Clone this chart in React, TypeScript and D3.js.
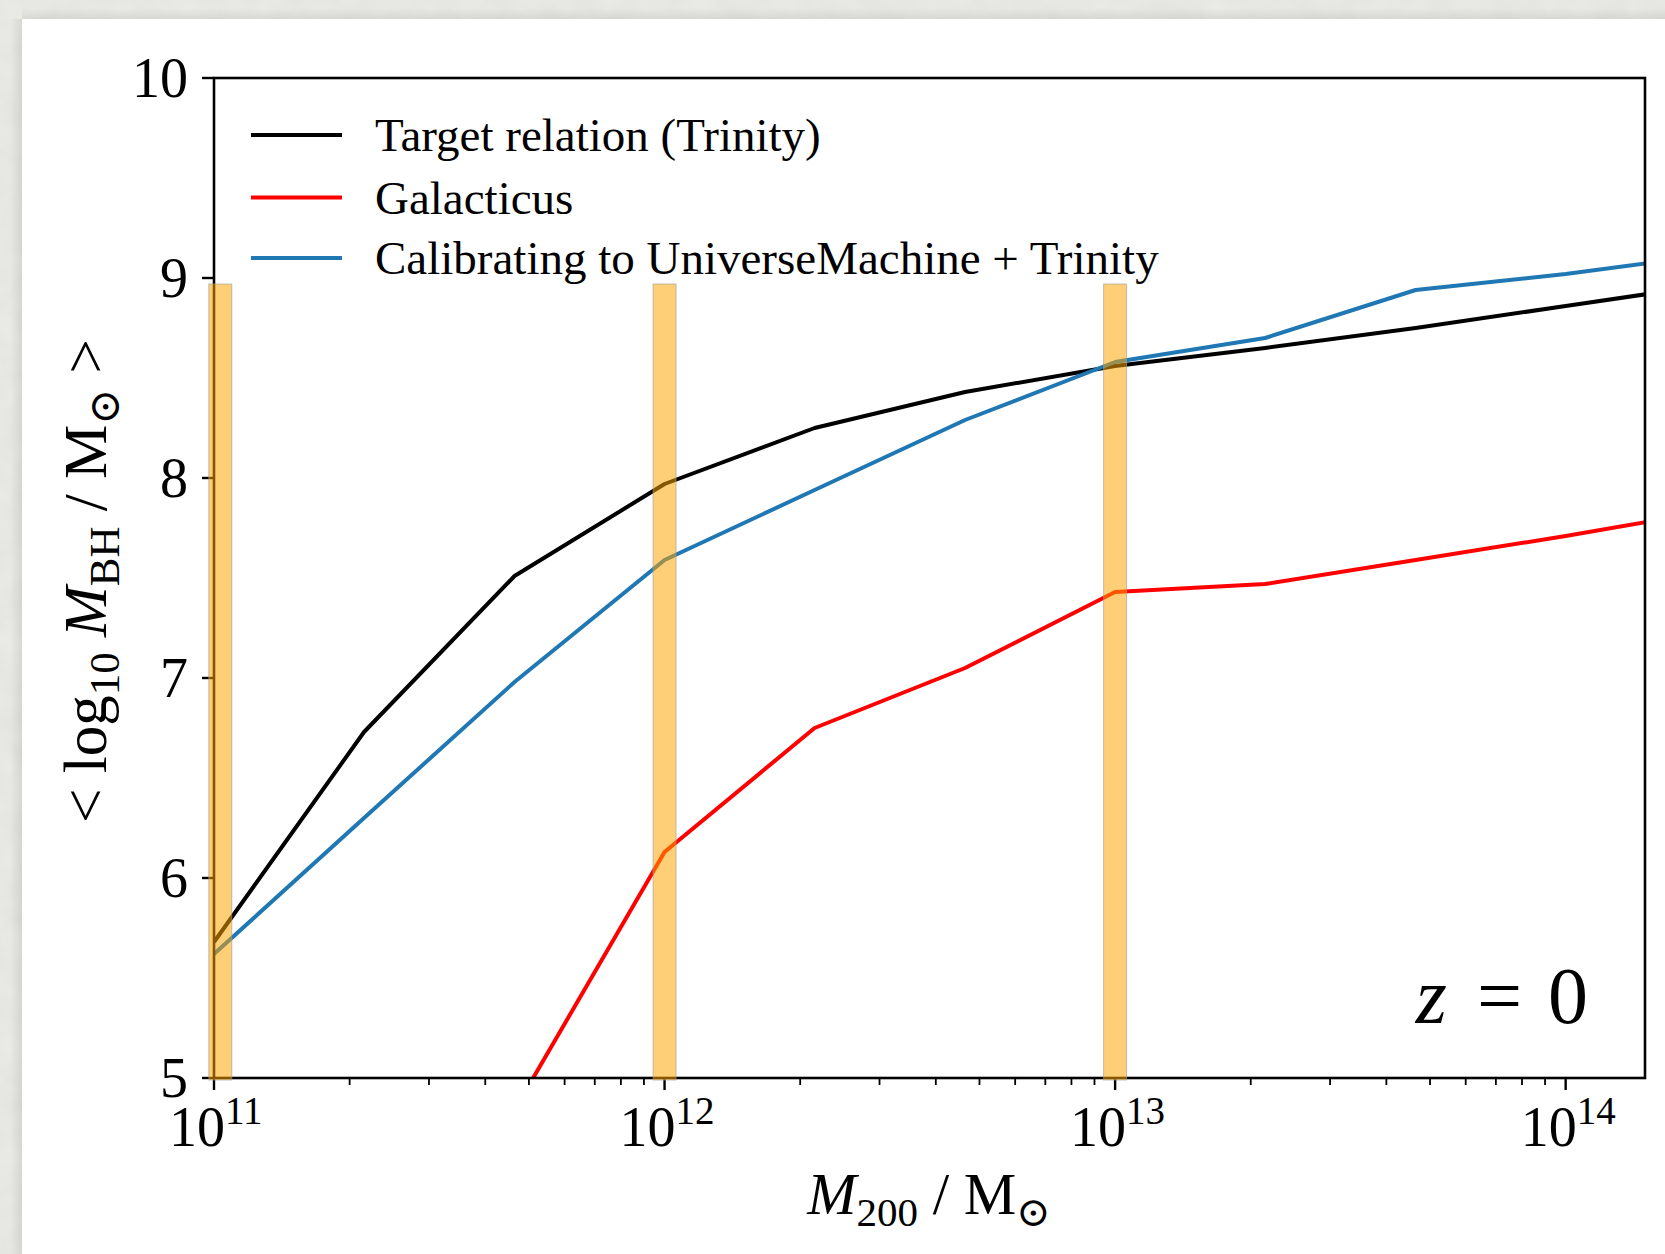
import React from "react";
import * as d3 from "d3";

const W = 1665;
const H = 1254;

// log10(M200 / Msun) sample points
const logMass = [11.0, 11.333, 11.667, 12.0, 12.333, 12.667, 13.0, 13.333, 13.667, 14.0, 14.333];
const targetTrinity = [5.68, 6.73, 7.51, 7.97, 8.25, 8.43, 8.56, 8.65, 8.75, 8.86, 8.97];
const calibrated = [5.62, 6.3, 6.98, 7.59, 7.94, 8.29, 8.58, 8.7, 8.94, 9.02, 9.12];
const galacticusMass = [11.667, 12.0, 12.333, 12.667, 13.0, 13.333, 13.667, 14.0, 14.333];
const galacticus = [4.84, 6.13, 6.75, 7.05, 7.43, 7.47, 7.59, 7.71, 7.84];

// highlighted mass bins (log10 centre)
const bandCenters = [11.014, 12.0, 13.0];
const bandHalfWidth = 0.0255;
const bandRange = [5, 8.97];

const xTicks = [11, 12, 13, 14];
const yTicks = [5, 6, 7, 8, 9, 10];

const seriesNames = ["Target relation (Trinity)", "Galacticus", "Calibrating to UniverseMachine + Trinity"];
const seriesColors = ["#000000", "#ff0000", "#1f77b4"];

const FONT = "'Liberation Serif', 'DejaVu Serif', serif";

export default function App() {
  const left = 214, right = 1645, top = 78, bottom = 1078;
  const x = d3.scaleLog().domain([1e11, 1.5e14]).range([left, right]);
  const y = d3.scaleLinear().domain([5, 10]).range([bottom, top]);

  const line = d3
    .line<[number, number]>()
    .x((d) => x(Math.pow(10, d[0])))
    .y((d) => y(d[1]));

  const seriesData: [number, number][][] = [
    logMass.map((m, i) => [m, targetTrinity[i]]),
    galacticusMass.map((m, i) => [m, galacticus[i]]),
    logMass.map((m, i) => [m, calibrated[i]]),
  ];
  const drawOrder = [0, 1, 2];

  const minorTicks: number[] = [];
  for (let e = 11; e <= 14; e++) {
    for (let k = 2; k <= 9; k++) {
      const v = k * Math.pow(10, e);
      if (v <= 1.5e14) minorTicks.push(v);
    }
  }

  const legendY = [135, 197.5, 258];

  return (
    <svg
      width={W}
      height={H}
      style={{ position: "absolute", left: 0, top: 0, display: "block" }}
      fontFamily={FONT}
    >
      <defs>
        <filter id="paper" x="0" y="0" width="100%" height="100%">
          <feTurbulence type="fractalNoise" baseFrequency="0.035" numOctaves="3" seed="4" />
          <feColorMatrix
            type="matrix"
            values="0 0 0 0 0.5  0 0 0 0 0.5  0 0 0 0 0.48  0 0 0 0.18 0"
          />
        </filter>
        <linearGradient id="shadowL" x1="0" x2="1" y1="0" y2="0">
          <stop offset="0" stopColor="#000" stopOpacity="0" />
          <stop offset="1" stopColor="#000" stopOpacity="0.08" />
        </linearGradient>
        <linearGradient id="shadowT" x1="0" x2="0" y1="0" y2="1">
          <stop offset="0" stopColor="#000" stopOpacity="0" />
          <stop offset="1" stopColor="#000" stopOpacity="0.07" />
        </linearGradient>
        <clipPath id="plotClip">
          <rect x={left} y={top} width={right - left} height={bottom - top} />
        </clipPath>
      </defs>

      {/* background frame */}
      <rect x={0} y={0} width={W} height={H} fill="#ebebe8" />
      <rect x={0} y={0} width={W} height={H} filter="url(#paper)" />
      <rect x={10} y={19} width={12} height={H} fill="url(#shadowL)" />
      <rect x={22} y={8} width={W} height={11} fill="url(#shadowT)" />
      <rect x={22} y={19} width={W - 22} height={H - 19} fill="#ffffff" />

      {/* data lines */}
      <g clipPath="url(#plotClip)">
        {drawOrder.map((i) => (
          <path
            key={i}
            d={line(seriesData[i]) || ""}
            fill="none"
            stroke={seriesColors[i]}
            strokeWidth={4}
            strokeLinejoin="round"
          />
        ))}
      </g>

      {/* spines */}
      <rect
        x={left}
        y={top}
        width={right - left}
        height={bottom - top}
        fill="none"
        stroke="#000"
        strokeWidth={2.6}
      />

      {/* x ticks */}
      {minorTicks.map((v, i) => (
        <line key={"mn" + i} x1={x(v)} x2={x(v)} y1={bottom} y2={bottom + 7} stroke="#000" strokeWidth={1.8} />
      ))}
      {xTicks.map((e) => (
        <g key={"xt" + e}>
          <line x1={x(Math.pow(10, e))} x2={x(Math.pow(10, e))} y1={bottom} y2={bottom + 12} stroke="#000" strokeWidth={2.4} />
          <text x={x(Math.pow(10, e)) - 45} y={1146} fontSize={56} fill="#000">
            10
            <tspan dy={-22} fontSize={39}>
              {String(e)}
            </tspan>
          </text>
        </g>
      ))}

      {/* y ticks */}
      {yTicks.map((v) => (
        <g key={"yt" + v}>
          <line x1={left - 12} x2={left} y1={y(v)} y2={y(v)} stroke="#000" strokeWidth={2.4} />
          <text x={188} y={y(v) + 19} fontSize={56} textAnchor="end" fill="#000">
            {String(v)}
          </text>
        </g>
      ))}

      {/* highlighted bands (drawn on top) */}
      {bandCenters.map((c, i) => (
        <rect
          key={"band" + i}
          x={x(Math.pow(10, c - bandHalfWidth))}
          y={y(bandRange[1])}
          width={x(Math.pow(10, c + bandHalfWidth)) - x(Math.pow(10, c - bandHalfWidth))}
          height={y(bandRange[0]) - y(bandRange[1]) + 2}
          fill="#ffa500"
          fillOpacity={0.53}
          stroke="#999999"
          strokeOpacity={0.6}
          strokeWidth={1}
        />
      ))}

      {/* legend */}
      {seriesNames.map((name, i) => (
        <g key={"lg" + i}>
          <line x1={251} x2={342} y1={legendY[i]} y2={legendY[i]} stroke={seriesColors[i]} strokeWidth={4} />
          <text x={375} y={legendY[i] + 16} fontSize={47} fill="#000">
            {name}
          </text>
        </g>
      ))}

      {/* z = 0 annotation */}
      <text x={1588} y={1023} fontSize={80} textAnchor="end" fill="#000">
        <tspan fontStyle="italic">z</tspan>
        <tspan dx={30}>=</tspan>
        <tspan dx={26}>0</tspan>
      </text>

      {/* x label */}
      <text x={929} y={1214} fontSize={59} textAnchor="middle" fill="#000">
        <tspan fontStyle="italic">M</tspan>
        <tspan dy={12} fontSize={41}>200</tspan>
        <tspan dy={-12}> / M</tspan>
        <tspan dy={12} fontSize={41}>⊙</tspan>
      </text>

      {/* y label */}
      <text
        transform={`translate(106, 581) rotate(-90)`}
        fontSize={61}
        textAnchor="middle"
        fill="#000"
      >
        <tspan>{"< log"}</tspan>
        <tspan dy={13} fontSize={43}>10</tspan>
        <tspan dy={-13}> </tspan>
        <tspan fontStyle="italic">M</tspan>
        <tspan dy={13} fontSize={43}>BH</tspan>
        <tspan dy={-13}> / M</tspan>
        <tspan dy={13} fontSize={43}>⊙</tspan>
        <tspan dy={-13}>{" >"}</tspan>
      </text>
    </svg>
  );
}
